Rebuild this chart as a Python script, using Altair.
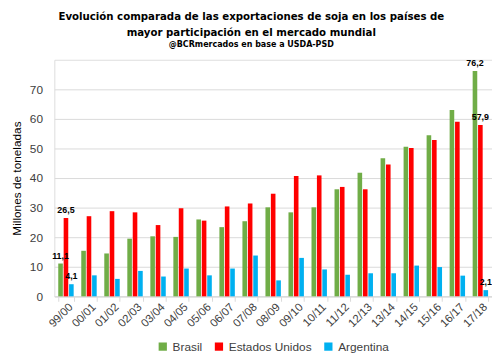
import altair as alt
import pandas as pd

campanias = ["99/00", "00/01", "01/02", "02/03", "03/04", "04/05", "05/06", "06/07", "07/08",
             "08/09", "09/10", "10/11", "11/12", "12/13", "13/14", "14/15", "15/16", "16/17", "17/18"]
brasil = [11.1, 15.4, 14.5, 19.5, 20.3, 20.1, 26.0, 23.4, 25.4, 30.1, 28.4, 30.1, 36.2, 41.8, 46.7, 50.6, 54.5, 63.0, 76.2]
eeuu = [26.5, 27.1, 28.8, 28.4, 24.1, 29.8, 25.6, 30.4, 31.4, 34.7, 40.7, 40.9, 37.0, 36.2, 44.6, 50.2, 52.9, 59.0, 57.9]
argentina = [4.1, 7.1, 5.9, 8.6, 6.7, 9.4, 7.1, 9.4, 13.8, 5.4, 13.0, 9.1, 7.3, 7.8, 7.8, 10.4, 9.9, 7.0, 2.1]
paises = ["Brasil", "Estados Unidos", "Argentina"]
colores = ["#70AD47", "#FF0000", "#00B0F0"]
etiquetas_campanias = ["99/00", "17/18"]

rows = []
for i, c in enumerate(campanias):
    for p, vals in zip(paises, [brasil, eeuu, argentina]):
        v = vals[i]
        lab = f"{v:.1f}".replace(".", ",") if c in etiquetas_campanias else ""
        rows.append({"campania": c, "pais": p, "valor": v, "label": lab})
df = pd.DataFrame(rows)

FONT = "Liberation Sans"
TFONT = "DejaVu Sans Condensed, Roboto, sans-serif"
x_enc = alt.X("campania:N", sort=campanias,
              scale=alt.Scale(paddingInner=0.33, paddingOuter=0.17),
              axis=alt.Axis(title=None, labelAngle=-45, labelAlign="right", labelBaseline="middle",
                            labelFontSize=11.5, labelColor="#404040", labelFont=FONT,
                            tickBand="extent", tickColor="#d9d9d9", domainColor="#d9d9d9",
                            tickSize=5, labelPadding=4, labelOffset=5, grid=False))
xoff = alt.XOffset("pais:N", sort=paises, scale=alt.Scale(paddingInner=0.15))
y_enc = alt.Y("valor:Q", scale=alt.Scale(domain=[0, 80], nice=False),
              axis=alt.Axis(title="Millones de toneladas", values=[0, 10, 20, 30, 40, 50, 60, 70],
                            labelOverlap=False,
                            titleFont=FONT, titleFontSize=12, titleFontWeight="normal", titleColor="#000000",
                            labelFont=FONT, labelFontSize=12, labelColor="#404040",
                            gridColor="#d9d9d9", domain=False, ticks=False, labelPadding=12,
                            titlePadding=6))

bars = alt.Chart(df).mark_bar().encode(
    x=x_enc, xOffset=xoff, y=y_enc,
    color=alt.Color("pais:N", sort=paises, scale=alt.Scale(domain=paises, range=colores),
                    legend=alt.Legend(title=None, orient="none", direction="horizontal",
                                      legendX=104, legendY=285,
                                      symbolType="square", symbolSize=70, labelFont=FONT,
                                      labelFontSize=12, labelColor="#404040", columnPadding=10,
                                      symbolStrokeWidth=0))
)

text = alt.Chart(df).mark_text(baseline="bottom", dy=-3, fontSize=9, fontWeight="bold",
                               font=FONT, color="#000000").encode(
    x=x_enc, xOffset=xoff, y=y_enc, text="label:N")

chart = alt.layer(bars, text).properties(
    width=444, height=240,
    title=alt.TitleParams(
        text=["Evolución comparada de las exportaciones de soja en los países de",
              "mayor participación en el mercado mundial"],
        subtitle="@BCRmercados en base a USDA-PSD",
        font=TFONT, fontSize=11.5, fontWeight="bold", color="#000000",
        lineHeight=16, subtitleFont=TFONT, subtitleFontSize=9,
        subtitleFontWeight="bold", subtitleColor="#000000", anchor="middle", frame="bounds",
        offset=10, subtitlePadding=2),
    padding={"left": 2, "top": 0, "right": 0, "bottom": 0}
).configure_view(stroke=None).configure(background="#ffffff")

chart.save("out.html", embed_options={"renderer": "svg", "actions": False})
